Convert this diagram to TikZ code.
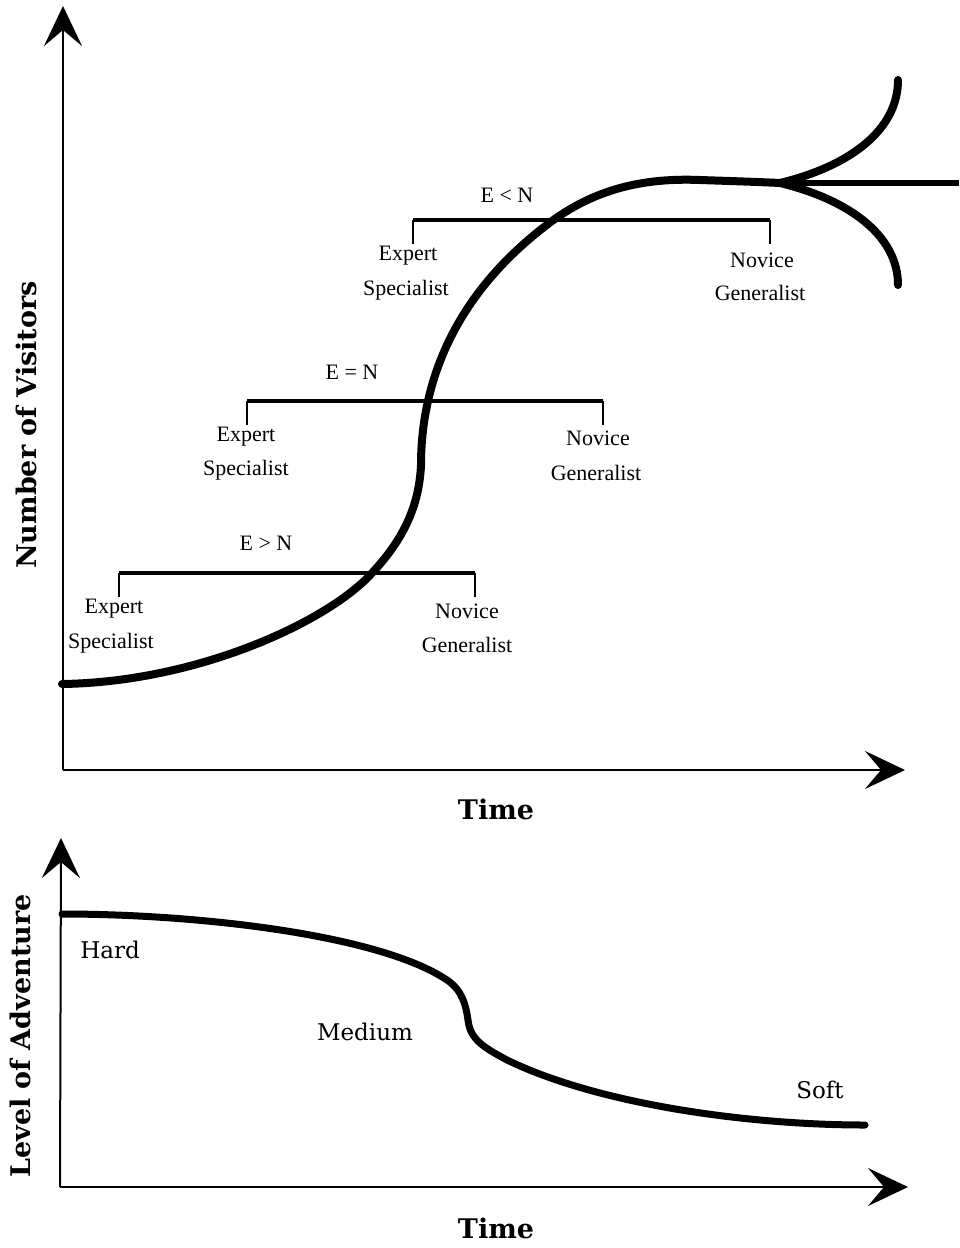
\documentclass[tikz,border=0pt]{standalone}
\usepackage{fontspec}
\setmainfont{Liberation Serif}
\newfontfamily\axisfont{DejaVu Serif}
\usetikzlibrary{arrows.meta}
\begin{document}
\begin{tikzpicture}[x=1pt,y=-1pt,
  axis/.style={line width=2pt, -{Stealth[length=40pt,width=38pt,inset=16pt]}},
  curve/.style={line width=8pt, line cap=round, line join=round},
  bar/.style={line width=4pt},
  tickline/.style={line width=1.5pt},
  pole/.style={font=\fontsize{22}{24}\selectfont, inner sep=0pt},
  axlabel/.style={font=\axisfont\bfseries\fontsize{27}{30}\selectfont, inner sep=0pt},
  zone/.style={font=\axisfont\fontsize{23}{26}\selectfont, inner sep=0pt}]
\useasboundingbox (0,0) rectangle (959,1248);

% ---------- upper chart: visitors over time ----------
\coordinate (o1) at (63,770);
\coordinate (ytop1) at (63,6);
\coordinate (xend1) at (905,770);
\draw[axis] (o1) -- (ytop1);
\draw[axis] (o1) -- (xend1);

\node[axlabel] (time1) at (496,809) {Time};
\node[axlabel, rotate=90] (visitors) at (26,425) {Number of Visitors};

% growth curve
\coordinate (start1) at (62,684);
\coordinate (c1) at (372,573);
\coordinate (c2) at (421,465);
\coordinate (c3) at (552,221);
\coordinate (c4) at (700,180);
\coordinate (split) at (780,183);
\draw[curve] (start1) .. controls (200,682) and (330,620) .. (c1)
  .. controls (400,543) and (419,510) .. (c2)
  .. controls (421,395) and (445,300) .. (c3)
  .. controls (600,186) and (650,178) .. (c4)
  .. controls (730,181) and (760,182) .. (split);
% three possible futures
\coordinate (up) at (898,80);
\coordinate (flat) at (959,183);
\coordinate (down) at (898,285);
\draw[curve] (split) .. controls (850,166) and (898,130) .. (up);
\draw[curve] (split) .. controls (850,200) and (898,236) .. (down);
\draw[line width=6pt] (split) -- (flat);

% E > N
\coordinate (a1) at (119,573); \coordinate (b1) at (475,573);
\draw[bar] (a1) -- (b1);
\draw[tickline] (a1) -- ++(0,24);
\draw[tickline] (b1) -- ++(0,24);
\node[pole] (r1) at (266,543) {E > N};
\node[pole] (e1) at (114,609) {Expert};
\node[pole] (s1) at (111,643) {Specialist};
\node[pole] (n1) at (467,611) {Novice};
\node[pole] (g1) at (467,645) {Generalist};

% E = N
\coordinate (a2) at (247,401); \coordinate (b2) at (603,401);
\draw[bar] (a2) -- (b2);
\draw[tickline] (a2) -- ++(0,24);
\draw[tickline] (b2) -- ++(0,24);
\node[pole] (r2) at (352,372) {E = N};
\node[pole] (e2) at (246,437) {Expert};
\node[pole] (s2) at (246,470) {Specialist};
\node[pole] (n2) at (598,438) {Novice};
\node[pole] (g2) at (596,473) {Generalist};

% E < N
\coordinate (a3) at (413,220); \coordinate (b3) at (770,220);
\draw[bar] (a3) -- (b3);
\draw[tickline] (a3) -- ++(0,24);
\draw[tickline] (b3) -- ++(0,24);
\node[pole] (r3) at (507,195) {E < N};
\node[pole] (e3) at (408,256) {Expert};
\node[pole] (s3) at (406,290) {Specialist};
\node[pole] (n3) at (762,260) {Novice};
\node[pole] (g3) at (760,293) {Generalist};

% ---------- lower chart: adventure over time ----------
\coordinate (o2) at (60,1187);
\coordinate (ytop2) at (61,838);
\coordinate (xend2) at (908,1187);
\draw[axis] (o2) -- (ytop2);
\draw[axis] (o2) -- (xend2);

\node[axlabel] (time2) at (496,1228) {Time};
\node[axlabel, rotate=90] (adventure) at (20,1036) {Level of Adventure};

\coordinate (start2) at (62,914);
\coordinate (d1) at (447,980);
\coordinate (d2) at (468,1020);
\coordinate (d3) at (507,1060);
\coordinate (end2) at (865,1125);
\draw[curve, line width=7pt] (start2) .. controls (200,914) and (380,935) .. (d1)
  .. controls (462,990) and (466,1005) .. (d2)
  .. controls (470,1040) and (485,1048) .. (d3)
  .. controls (600,1105) and (750,1125) .. (end2);

\node[zone] (hard) at (110,950) {Hard};
\node[zone] (medium) at (365,1032) {Medium};
\node[zone] (soft) at (820,1090) {Soft};
\end{tikzpicture}
\end{document}
